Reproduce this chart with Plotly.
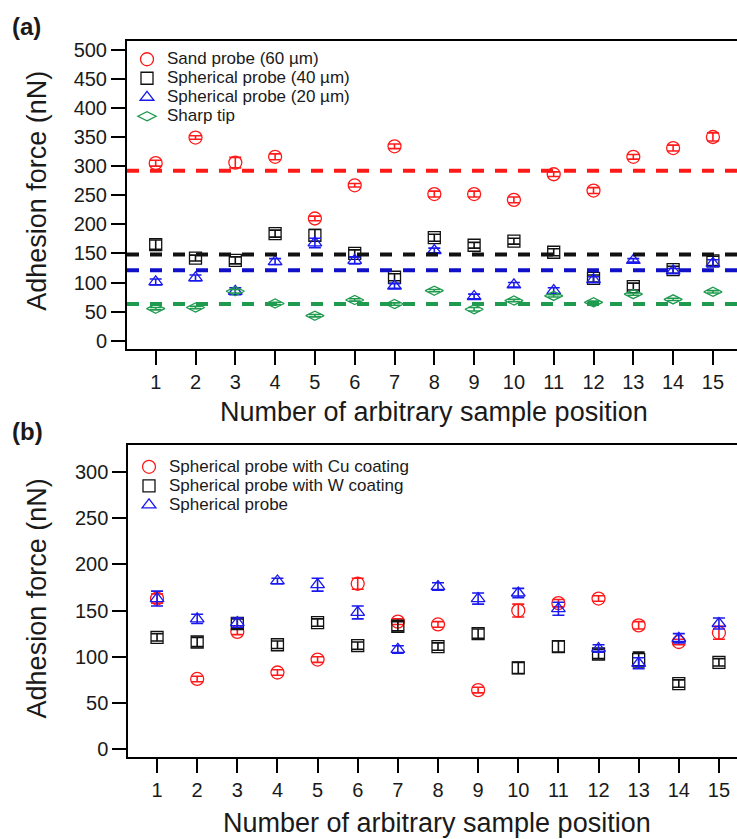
import plotly.graph_objects as go

# ---------------- data ----------------
positions = list(range(1, 16))

# Panel (a)
sand_60 = [305, 349, 306, 316, 210, 267, 334, 252, 252, 242, 286, 258, 316, 331, 350]
sand_60_err = [5, 3, 9, 5, 4, 3, 4, 5, 5, 5, 4, 5, 4, 5, 7]
sph_40 = [165, 142, 138, 184, 181, 150, 109, 177, 164, 171, 152, 107, 93, 122, 137]
sph_40_err = [8, 5, 6, 6, 10, 6, 6, 6, 5, 5, 6, 6, 6, 6, 8]
sph_20 = [101, 108, 85, 136, 168, 138, 94, 155, 76, 96, 86, 105, 138, 120, 133]
sph_20_err = [5, 5, 6, 5, 8, 6, 4, 4, 4, 4, 5, 5, 3, 4, 6]
sharp = [55, 57, 85, 64, 43, 70, 63, 86, 54, 69, 77, 66, 80, 71, 84]
sharp_err = [2, 2, 3, 2, 2, 2, 2, 2, 3, 2, 2, 2, 2, 2, 2]
mean_a = [292, 148, 121, 63]  # dashed reference levels

names_a = ["Sand probe (60 µm)", "Spherical probe (40 µm)", "Spherical probe (20 µm)", "Sharp tip"]

# Panel (b)
cu = [163, 76, 127, 83, 97, 179, 138, 135, 64, 150, 158, 163, 134, 116, 126]
cu_err = [5, 3, 3, 3, 3, 6, 3, 3, 3, 7, 4, 3, 4, 3, 7]
w_coat = [121, 116, 136, 113, 137, 112, 133, 111, 125, 88, 111, 103, 97, 71, 94]
w_coat_err = [4, 5, 5, 4, 4, 4, 5, 4, 5, 6, 6, 5, 8, 4, 4]
sph = [163, 141, 137, 182, 178, 148, 108, 176, 163, 169, 152, 109, 93, 120, 136]
sph_err = [8, 5, 5, 3, 7, 7, 4, 4, 6, 5, 7, 4, 6, 5, 6]

names_b = ["Spherical probe with Cu coating", "Spherical probe with W coating", "Spherical probe"]

RED = "#ff1a1a"
BLACK = "#111111"
BLUE = "#1a1aee"
GREEN = "#1f9a4e"
FONT = "Arial, 'Liberation Sans', sans-serif"
TXT = "#1a1a1a"

W, H = 737, 839


def px(x):
    return x / W


def py(y):
    return 1 - y / H


def big(s):
    return '<span style="font-size:17px">' + s + "</span>"


fig = go.Figure()


def add(y, err, name, sym, size, color, xa, ya, leg):
    fig.add_trace(go.Scatter(
        x=positions, y=y, mode="markers", name=big(name),
        marker=dict(symbol=sym, size=size, color=color, line=dict(width=1.3, color=color)),
        error_y=dict(type="data", array=err, color=color, thickness=1.6, width=6),
        xaxis=xa, yaxis=ya, legend=leg,
    ))


add(sand_60, sand_60_err, names_a[0], "circle-open", 13, RED, "x", "y", "legend")
add(sph_40, sph_40_err, names_a[1], "square-open", 12, BLACK, "x", "y", "legend")
add(sph_20, sph_20_err, names_a[2], "triangle-up-open", 12, BLUE, "x", "y", "legend")
add(sharp, sharp_err, names_a[3], "diamond-wide-open", 13, GREEN, "x", "y", "legend")

add(cu, cu_err, names_b[0], "circle-open", 13, RED, "x2", "y2", "legend2")
add(w_coat, w_coat_err, names_b[1], "square-open", 12, BLACK, "x2", "y2", "legend2")
add(sph, sph_err, names_b[2], "triangle-up-open", 12, BLUE, "x2", "y2", "legend2")

line_colors = [RED, BLACK, "#1010c8", GREEN]
shapes = []
for v, c in zip(mean_a, line_colors):
    shapes.append(dict(type="line", xref="x domain", yref="y", x0=0, x1=1, y0=v, y1=v,
                       line=dict(color=c, width=4, dash="12px,11px"), layer="above"))

common_x = dict(
    tickmode="array", tickvals=positions, ticks="outside", ticklen=14, tickwidth=2,
    tickcolor="black", showline=True, linewidth=2, linecolor="black", mirror=True,
    showgrid=False, zeroline=False, tickfont=dict(family=FONT, size=20, color=TXT),
)
common_y = dict(
    ticks="outside", ticklen=14, tickwidth=2, tickcolor="black", showline=True,
    linewidth=2, linecolor="black", mirror=False, showgrid=False, zeroline=False,
    tickfont=dict(family=FONT, size=20, color=TXT),
)

LEG_FONT = dict(family=FONT, size=12.3, color=TXT)

fig.update_layout(
    width=W, height=H, margin=dict(l=0, r=0, t=0, b=0),
    paper_bgcolor="white", plot_bgcolor="white", showlegend=True,
    xaxis=dict(domain=[px(127), 1], range=[0.279, 15.605], anchor="y", **common_x),
    yaxis=dict(domain=[py(349), py(39)], range=[-14.1, 515.3], anchor="x",
               tickvals=list(range(0, 501, 50)), **common_y),
    xaxis2=dict(domain=[px(128.3), 1], range=[0.284, 15.45], anchor="y2", **common_x),
    yaxis2=dict(domain=[py(760), py(446)], range=[-8.9, 328.7], anchor="x2",
                tickvals=list(range(0, 301, 50)), **common_y),
    legend=dict(x=px(127), y=py(43), xanchor="left", yanchor="top",
                bgcolor="rgba(0,0,0,0)", font=LEG_FONT, tracegroupgap=0),
    legend2=dict(x=px(129), y=py(453), xanchor="left", yanchor="top",
                 bgcolor="rgba(0,0,0,0)", font=LEG_FONT, tracegroupgap=0),
    shapes=shapes,
    annotations=[
        dict(text="<b>(a)</b>", x=px(10), y=py(25), xref="paper", yref="paper",
             xanchor="left", yanchor="middle", showarrow=False,
             font=dict(family=FONT, size=24, color=TXT)),
        dict(text="<b>(b)</b>", x=px(10), y=py(432), xref="paper", yref="paper",
             xanchor="left", yanchor="middle", showarrow=False,
             font=dict(family=FONT, size=24, color=TXT)),
        dict(text="Adhesion force (nN)", x=px(37), y=py(190), xref="paper", yref="paper",
             xanchor="center", yanchor="middle", textangle=-90, showarrow=False,
             font=dict(family=FONT, size=27, color=TXT)),
        dict(text="Adhesion force (nN)", x=px(37), y=py(600), xref="paper", yref="paper",
             xanchor="center", yanchor="middle", textangle=-90, showarrow=False,
             font=dict(family=FONT, size=27, color=TXT)),
        dict(text="Number of arbitrary sample position", x=px(434), y=py(412),
             xref="paper", yref="paper", xanchor="center", yanchor="middle",
             showarrow=False, font=dict(family=FONT, size=27, color=TXT)),
        dict(text="Number of arbitrary sample position", x=px(437), y=py(826),
             xref="paper", yref="paper", xanchor="center", yanchor="middle",
             showarrow=False, font=dict(family=FONT, size=27, color=TXT)),
    ],
)

fig.write_html("out.html", config={"displayModeBar": False})
